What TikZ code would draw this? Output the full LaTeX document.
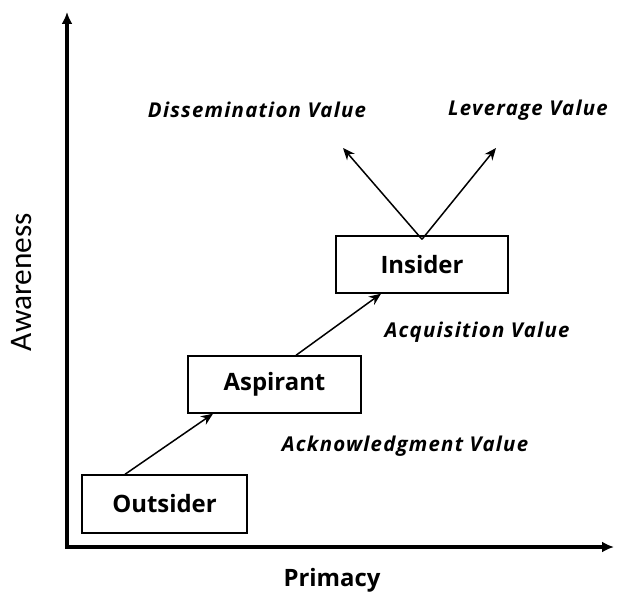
\documentclass[tikz,border=0pt]{standalone}
\usepackage{fontspec}
\setmainfont{Open Sans}
\newfontfamily\axisfont{Carlito}
\newfontfamily\valuefont[LetterSpace=6]{Open Sans}
\usetikzlibrary{arrows.meta}
\begin{document}
\begin{tikzpicture}[x=1bp,y=-1bp,
  stage/.style={draw,line width=1.4bp,inner sep=0pt,
    font=\fontsize{24}{27}\selectfont\bfseries},
  valuelabel/.style={font=\valuefont\fontsize{20.5}{23}\selectfont\bfseries\itshape},
  axis/.style={line width=3.4bp,-{Latex[length=12bp,width=11bp]}},
  flow/.style={line width=1.5bp,-{Stealth[length=12bp,width=10bp]}}]
\useasboundingbox (0,0) rectangle (621,596);
% axes
\coordinate (origin) at (67,547);
\coordinate (ytop) at (67,12);
\coordinate (xend) at (614,547);
\draw[axis] (origin) -- (ytop);
\draw[axis] ([xshift=-1.7bp]origin) -- (xend);
\node[font=\fontsize{24}{27}\selectfont\bfseries] (primacy) at (332,580) {Primacy};
\node[font=\axisfont\fontsize{31.5}{34}\selectfont, rotate=90] (awareness) at (22,282) {Awareness};
% stages
\node[stage, minimum width=165bp, minimum height=58bp] (outsider) at (164.5,504) {Outsider};
\node[stage, minimum width=173bp, minimum height=57bp] (aspirant) at (274.5,384.5) {Aspirant};
\node[stage, minimum width=172bp, minimum height=57bp] (insider) at (422,264.5) {Insider};
% value labels
\node[valuelabel] (dissem) at (257,110) {Dissemination Value};
\node[valuelabel] (leverage) at (528,110) {Leverage Value};
\node[valuelabel] (acq) at (477,332) {Acquisition Value};
\node[valuelabel] (ack) at (405,446) {Acknowledgment Value};
% transitions
\coordinate (dtip) at (343,148);
\coordinate (ltip) at (496,148);
\draw[flow] (outsider.north -| 125,0) -- (aspirant.south -| 213,0);
\draw[flow] (aspirant.north -| 296,0) -- (insider.south -| 381,0);
\draw[flow] ([yshift=-4bp]insider.north) -- (dtip);
\draw[flow] ([yshift=-4bp]insider.north) -- (ltip);
\end{tikzpicture}
\end{document}
